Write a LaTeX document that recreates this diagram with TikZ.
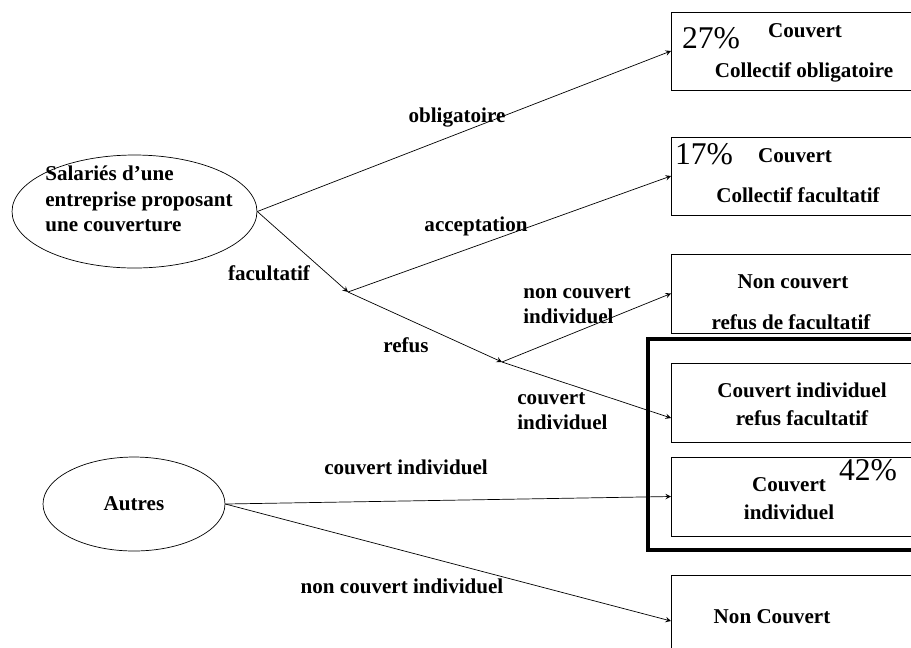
\documentclass[tikz,border=0pt]{standalone}
\usepackage{fontspec}
\setmainfont{Liberation Serif}
\usetikzlibrary{shapes.geometric}

\begin{document}
\begin{tikzpicture}[
            x=0.02cm, y=-0.02cm,
            box/.style={draw,thin,rectangle,anchor=north west,minimum width=6cm,inner sep=0pt,outer sep=0pt},
            ell/.style={draw,thin,ellipse,inner sep=0pt},
            lab/.style={font=\fontsize{12}{14.5}\selectfont\bfseries,inner sep=0pt},
            pct/.style={font=\fontsize{18}{20}\selectfont,inner sep=0pt},
            arr/.style={draw,->,>=stealth,thin}
        ]

        \useasboundingbox (0,0) rectangle (911,647);

        % left: the two populations
        \node[ell,minimum width=4.9cm,minimum height=2.26cm] (sal) at (134.5,211.5) {};
        \node[lab,anchor=west,align=left] (saltxt) at (45,199) {Salariés d’une\\entreprise proposant\\une couverture};
        \node[ell,minimum width=3.64cm,minimum height=1.88cm,lab] (aut) at (134,504) {Autres};

        \coordinate (fac) at (348,292);
        \coordinate (ref) at (502,362);

        % right: the outcomes
        \node[box,minimum height=1.56cm] (box1) at (671,12) {};
        \node[box,minimum height=1.56cm] (box2) at (671,137) {};
        \node[box,minimum height=1.58cm] (box3) at (671,254) {};
        \node[box,minimum height=1.58cm] (box4) at (671,363) {};
        \node[box,minimum height=1.58cm] (box5) at (671,457) {};
        \node[box,minimum height=1.84cm] (box6) at (671,575) {};
        \draw[line width=2.8pt] (648,339) rectangle (940,550);

        \node[pct] (p27) at (711,38) {27\%};
        \node[lab] (cov1) at (805,31) {Couvert};
        \node[lab] (col1) at (804,72) {Collectif obligatoire};
        \node[pct] (p17) at (704,154) {17\%};
        \node[lab] (cov2) at (795,156) {Couvert};
        \node[lab] (col2) at (798,195) {Collectif facultatif};
        \node[lab] (nc3) at (793,282) {Non couvert};
        \node[lab] (rf3) at (791,322) {refus de facultatif};
        \node[lab,align=center,font=\fontsize{12}{16}\selectfont\bfseries] (ci4) at (802,404) {Couvert individuel\\refus facultatif};
        \node[pct] (p42) at (868,470) {42\%};
        \node[lab,align=center,font=\fontsize{12}{16}\selectfont\bfseries] (ci5) at (789,499) {Couvert\\individuel};
        \node[lab] (nc6) at (772,617) {Non Couvert};

        % branch labels
        \node[lab] (l1) at (457,118) {obligatoire};
        \node[lab] (l2) at (269,273) {facultatif};
        \node[lab] (l3) at (476,226) {acceptation};
        \node[lab] (l4) at (406,345) {refus};
        \node[lab,anchor=west,align=left] (l5) at (523,305) {non couvert\\individuel};
        \node[lab,anchor=west,align=left] (l6) at (517,411) {couvert\\individuel};
        \node[lab] (l7) at (406,467) {couvert individuel};
        \node[lab] (l8) at (402,586) {non couvert individuel};

        \path
            (sal.east) edge[arr] (box1.west)
            (sal.east) edge[arr] (fac)
            (fac) edge[arr] (box2.west)
            (fac) edge[arr] (ref)
            (ref) edge[arr] (box3.west)
            (ref) edge[arr] ([yshift=-0.31cm]box4.west)
            (aut.east) edge[arr] (box5.west)
            (aut.east) edge[arr] (box6.west)
        ;

\end{tikzpicture}
\end{document}
